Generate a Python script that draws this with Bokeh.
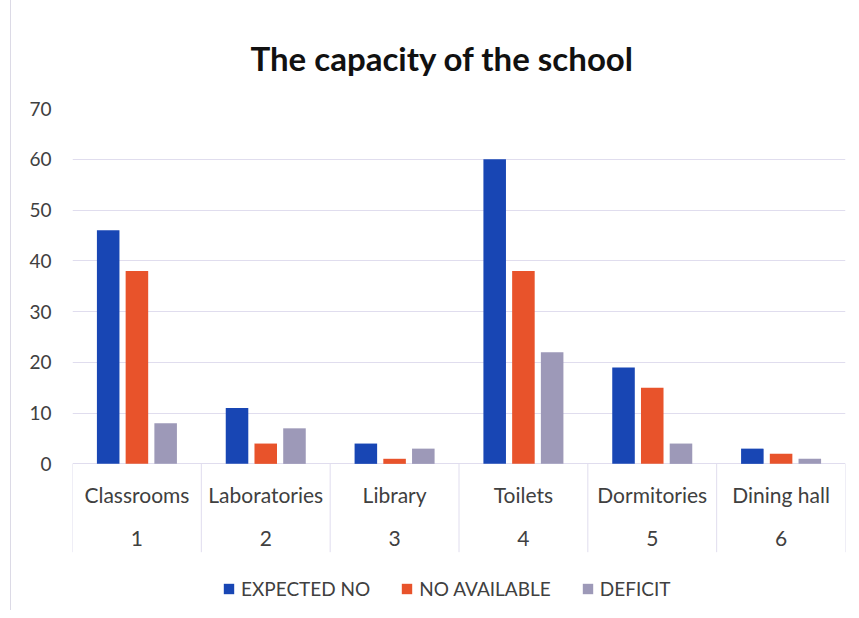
import numpy as np
from bokeh.plotting import figure
from bokeh.models import ColumnDataSource, FixedTicker, Legend, LegendItem, Title
from bokeh.transform import dodge
from bokeh.core.properties import value
from bokeh.embed import file_html
from bokeh.resources import INLINE

# ---- data ----
categories = ["Classrooms", "Laboratories", "Library", "Toilets", "Dormitories", "Dining hall"]
numbers = ["1", "2", "3", "4", "5", "6"]
expected_no = [46, 11, 4, 60, 19, 3]
no_available = [38, 4, 1, 38, 15, 2]
deficit = [8, 7, 3, 22, 4, 1]
series_names = ["EXPECTED NO", "NO AVAILABLE", "DEFICIT"]
y_ticks = [0, 10, 20, 30, 40, 50, 60, 70]

# ---- styling ----
FONT = "Lato"
COLORS = ["#1846B4", "#E8532B", "#9D99B8"]
GRID = "#E0DDEE"
TEXT = "#404040"

xs = list(range(1, len(categories) + 1))
src = ColumnDataSource(dict(x=xs, cat=categories, num=numbers,
                            a=expected_no, b=no_available, c=deficit))

p = figure(width=851, height=610, output_backend="svg", toolbar_location=None,
           x_range=(0.5, len(categories) + 0.5), y_range=(-27.9, 70),
           x_axis_location=None, min_border_left=72, min_border_right=6,
           min_border_top=108, min_border_bottom=5)
p.styles = {"background": "linear-gradient(to right, white 10px, #DCDAE6 10px, #DCDAE6 11px, white 11px)"}
p.outline_line_color = None
p.background_fill_color = "white"
p.border_fill_alpha = 0

# title
p.title = Title(text="The capacity of the school", align="left", offset=178,
                text_font=FONT, text_font_size="33px", text_font_style="bold",
                text_color="#111111", standoff=62)

# y axis
p.yaxis.ticker = FixedTicker(ticks=y_ticks)
p.yaxis.axis_line_color = None
p.yaxis.major_tick_line_color = None
p.yaxis.minor_tick_line_color = None
p.yaxis.major_label_text_font = FONT
p.yaxis.major_label_text_font_size = "19px"
p.yaxis.major_label_text_color = TEXT
p.yaxis.major_label_standoff = 15
p.ygrid.ticker = FixedTicker(ticks=y_ticks)
p.ygrid.grid_line_color = GRID
p.ygrid.grid_line_width = 1
p.xgrid.grid_line_color = None

# bars
bw = 0.175
off = 0.223
fields = ["a", "b", "c"]
renderers = []
for k, (f, col) in enumerate(zip(fields, COLORS)):
    r = p.vbar(x=dodge("x", (k - 1) * off, range=p.x_range), top=f, bottom=0,
               width=bw, source=src, fill_color=col, line_color=None)
    renderers.append(r)

# category separators (two-level axis boxes)
bounds = np.arange(len(categories) + 1) + 0.5
p.segment(x0=bounds, y0=[0] * len(bounds), x1=bounds, y1=[-17.4] * len(bounds),
          line_color=GRID, line_width=1)

# category labels
p.text(x="x", y=-6.0, text="cat", source=src, text_font=value(FONT),
       text_font_size="21px", text_color=TEXT, text_align="center",
       text_baseline="middle")
p.text(x="x", y=-14.75, text="num", source=src, text_font=value(FONT),
       text_font_size="21px", text_color=TEXT, text_align="center",
       text_baseline="middle")

# legend
legend = Legend(items=[LegendItem(label=n, renderers=[r]) for n, r in zip(series_names, renderers)],
                orientation="horizontal", location=(150, 5),
                glyph_width=13, glyph_height=13, label_standoff=6, spacing=30,
                padding=0, margin=0, border_line_color=None, background_fill_alpha=0,
                label_text_font=FONT, label_text_font_size="19px", label_text_color=TEXT)
p.add_layout(legend, "center")

open("out.html", "w").write(file_html(p, INLINE))
